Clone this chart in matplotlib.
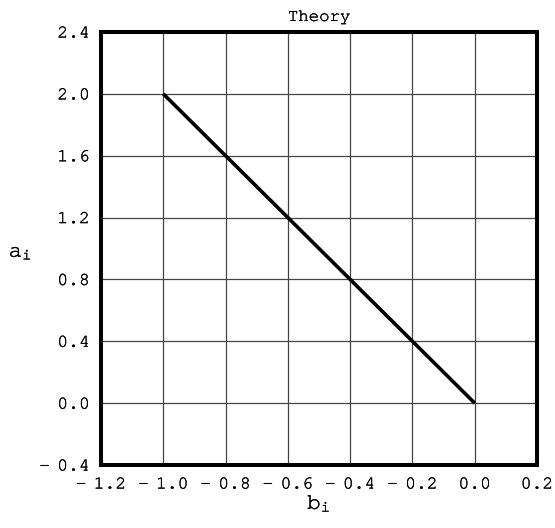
import matplotlib
matplotlib.use("Agg")
import matplotlib.pyplot as plt
import matplotlib.patheffects as pe
import numpy as np

# Data
b_values = [-1.0, 0.0]
a_values = [2.0, 0.0]
x_ticks = [-1.2, -1.0, -0.8, -0.6, -0.4, -0.2, 0.0, 0.2]
y_ticks = [-0.4, 0.0, 0.4, 0.8, 1.2, 1.6, 2.0, 2.4]
title = "Theory"

FONT = ['TeX Gyre Cursor', 'DejaVu Sans']
plt.rcParams['font.family'] = FONT
plt.rcParams['mathtext.fontset'] = 'custom'
plt.rcParams['mathtext.rm'] = 'TeX Gyre Cursor'
plt.rcParams['mathtext.it'] = 'TeX Gyre Cursor'

def fmt(v):
    s = f"{abs(v):.1f}"
    return ("-\u2009\u2009" + s) if v < -1e-9 else s

thick = [pe.withStroke(linewidth=0.25, foreground='black')]

fig = plt.figure(figsize=(5.55, 5.28), dpi=100)
ax = fig.add_axes([0.182, 0.1193, 0.7856, 0.8201])

ax.plot(b_values, a_values, color='black', lw=2.6, solid_capstyle='butt', zorder=3)

ax.set_xlim(-1.2, 0.2)
ax.set_ylim(-0.4, 2.4)
ax.set_xticks(x_ticks)
ax.set_yticks(y_ticks)
ax.set_xticklabels([fmt(v) for v in x_ticks])
ax.set_yticklabels([fmt(v) for v in y_ticks])
ax.tick_params(length=0, labelsize=13)
ax.tick_params(axis='y', pad=8)
ax.tick_params(axis='x', pad=9)
ax.grid(True, color='#444444', lw=0.9)
ax.set_axisbelow(True)
for s in ax.spines.values():
    s.set_linewidth(2.9)
    s.set_color('black')

t = ax.set_title(title, fontsize=12.5, pad=8)
xl = ax.set_xlabel(r'$\mathrm{b}_{\mathrm{i}}$', fontsize=16, labelpad=1)
yl = ax.set_ylabel(r'$\mathrm{a}_{\mathrm{i}}$', fontsize=16, rotation=0, va='center', ha='center')
ax.yaxis.set_label_coords(-0.185, 0.49)
for txt in [t, xl, yl] + ax.get_xticklabels() + ax.get_yticklabels():
    txt.set_path_effects(thick)

fig.savefig("out.png", dpi=100)
